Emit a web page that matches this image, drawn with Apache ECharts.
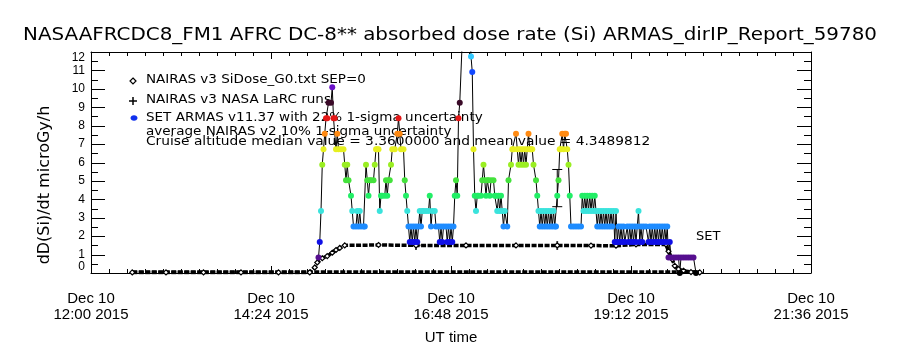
<!DOCTYPE html>
<html><head><meta charset="utf-8">
<script src="https://cdn.jsdelivr.net/npm/echarts@6/dist/echarts.min.js"></script>
<style>html,body{margin:0;padding:0;background:#fff}#c{width:900px;height:350px}</style>
</head><body><div id="c"></div>
<script>
// time values are minutes after Dec 10 2015 12:00 UT
const xTickLabels = ['Dec 10\n12:00 2015', 'Dec 10\n14:24 2015', 'Dec 10\n16:48 2015', 'Dec 10\n19:12 2015', 'Dec 10\n21:36 2015'];
const yTickLabels = ['0','1','2','3','4','5','6','7','8','9','10','11','12'];

// SET ARMAS v11.37 dose rate
const armasMin = [182,183,184,185,186,187,188,189,190,192,193,194,195,196,197,198,200,202,203,204,205,206,208,209,210,212,213,214,215,216,218,219,
  220,221,222,223,224,226,227,228,229,230,231,232,233,235,236,237,238,239,240,241,243,245,246,247,248,250,251,252,253,254,
  255,256,257,258,259,260,261,262,263,264,265,266,268,270,271,272,273,275,276,278,279,280,281,282,284,285,286,287,288,289,290,
  291,292,293,294,295,299,302,304,305,306,307,308,309,310,312,313,314,315,316,317,318,319,320,322,323,324,325,326,327,328,329,330,331,333,
  334,336,337,338,340,341,342,343,344,345,346,347,348,349,350,351,352,353,354,356,357,358,359,360,361,362,363,364,365,366,367,368,369,370,371,372,
  373,374,375,376,377,378,379,380,381,382,383,384,386,388,390,392,393,394,395,396,397,398,399,400,401,402,403,404,405,406,407,408,409,410,
  411,412,413,414,415,416,417,418,419,420,421,422,423,424,425,426,427,429,430,431,432,433,434,435,436,437,438,439,440,441,442,444,
  446,447,448,449,450,451,452,453,454,455,456,457,458,459,460,461,462,463,464,466,468,470,471,472,474,476,478,480,482,484];
const armasDose = [0.84,1.68,3.36,5.88,6.72,7.56,8.4,8.4,9.24,9.24,10.08,8.4,8.4,6.72,7.56,6.72,6.72,6.72,5.88,5.04,5.88,5.04,4.2,3.36,2.52,2.52,3.36,2.52,3.36,2.52,2.52,2.52,
  5.88,5.04,4.2,5.04,5.04,5.04,5.88,6.72,6.72,6.72,3.36,4.2,4.2,4.2,5.04,4.2,5.04,5.04,5.88,6.72,6.72,7.56,8.4,7.56,6.72,6.72,5.04,4.2,3.36,2.52,
  1.68,2.52,1.68,2.52,1.68,2.52,1.68,2.52,3.36,2.52,3.36,3.36,3.36,3.36,4.2,2.52,3.36,3.36,2.52,2.52,1.68,2.52,1.68,2.52,2.52,1.68,2.52,1.68,2.52,1.68,2.52,
  4.2,5.04,4.2,8.4,9.24,16,16,11.76,10.92,6.72,4.2,3.36,4.2,4.2,4.2,5.04,5.88,5.04,4.2,5.04,5.04,4.2,5.04,5.04,4.2,4.2,3.36,4.2,3.36,4.2,3.36,2.52,3.36,2.52,
  5.04,5.88,6.72,6.72,7.56,6.72,5.88,6.72,5.88,6.72,5.88,6.72,5.88,6.72,7.56,6.72,6.72,6.72,5.88,5.04,4.2,3.36,2.52,3.36,2.52,3.36,2.52,3.36,2.52,3.36,2.52,3.36,2.52,3.36,2.52,2.52,
  4.2,5.04,6.72,6.72,7.56,6.72,7.56,7.56,6.72,5.88,4.2,2.52,2.52,2.52,2.52,2.52,4.2,3.36,4.2,3.36,4.2,3.36,4.2,3.36,4.2,3.36,4.2,3.36,2.52,3.36,2.52,3.36,2.52,3.36,
  2.52,3.36,2.52,3.36,2.52,3.36,2.52,3.36,1.68,3.36,1.68,2.52,1.68,2.52,1.68,2.52,1.68,2.52,1.68,2.52,1.68,2.52,1.68,2.52,1.68,2.52,3.36,1.68,2.52,1.68,2.52,2.52,
  1.68,2.52,1.68,2.52,1.68,2.52,1.68,2.52,1.68,2.52,1.68,2.52,1.68,2.52,1.68,2.52,0.84,1.68,0.84,0.84,0.84,0.84,0,0.84,0.84,0.84,0.84,0.84,0.84,0];

// NAIRAS v3 SiDose_G0.txt SEP=0
const nairasMin  = [33,60,90,120,150,175,179,181,185,189,193,196,199,203,230,260,300,340,373,400,420,436,460,462,465,467,470,474,480,487];
const nairasDose = [0.03,0.03,0.03,0.03,0.03,0.03,0.3,0.57,0.8,0.92,1.1,1.25,1.36,1.5,1.52,1.5,1.5,1.5,1.5,1.49,1.48,1.55,1.55,1.18,0.74,0.39,0.21,0.12,0.05,0.03];
// low NAIRAS trace along the bottom
const lowMin  = [33,120,200,300,400,487];
const lowDose = [0.06,0.06,0.06,0.06,0.06,0.06];
// NAIRAS v3 NASA LaRC runs
const larcMin  = [260,373];
const larcDose = [1.5,1.5];
// uncertainty bar
const barMin = [373];
const barLow = [3.6];
const barHigh = [5.62];

const X_MIN = 0, X_MAX = 576, X_STEP = 144, X_MINOR = 10;
const Y_MIN = 0, Y_MAX = 12, Y_STEP = 1, Y_MINOR = 2;

const levelVals = [0,0.84,1.68,2.52,3.36,4.2,5.04,5.88,6.72,7.56,8.4,9.24,10.08,10.92,11.76,16];
const levelCols = ['#000000','#560f8f','#1010e6','#1e8cff','#3ae3dc','#22ee66','#44e23c','#9aee22','#e6f020','#ff8a12','#e41818','#3a0a28','#6a12c8','#1248ff','#30c8ff','#30c8ff'];
function colorFor(v){ let best=0, d=1e9; for(let i=0;i<levelVals.length;i++){const e=Math.abs(levelVals[i]-v); if(e<d){d=e;best=i;}} return levelCols[best]; }

const zip = (a,b)=>a.map((x,i)=>[x,b[i]]);
const FONT = 'DejaVu Sans';
const LFONT = 'Liberation Sans';
const chart = echarts.init(document.getElementById('c'));
const mkLine = ()=>({show:true, onZero:false, lineStyle:{color:'#000', width:1}});

// frame ticks (inside, on all four sides) drawn through the axes' own scale
function renderTicks(params, api){
  const kids = [];
  const st = {stroke:'#000', lineWidth:1};
  const crisp = (v)=>Math.round(v)+0.5;
  const nx = Math.round((X_MAX-X_MIN)/X_STEP)*X_MINOR;
  for(let i=0;i<=nx;i++){
    const t = X_MIN + i*X_STEP/X_MINOR;
    const len = (i % X_MINOR === 0) ? 7 : 4;
    const b = api.coord([t, Y_MIN]), tp = api.coord([t, Y_MAX]);
    const x = crisp(b[0]);
    kids.push({type:'line', shape:{x1:x, y1:b[1], x2:x, y2:b[1]-len}, style:st});
    kids.push({type:'line', shape:{x1:x, y1:tp[1], x2:x, y2:tp[1]+len}, style:st});
  }
  const ny = Math.round((Y_MAX-Y_MIN)/Y_STEP)*Y_MINOR;
  for(let i=0;i<=ny;i++){
    const v = Y_MIN + i*Y_STEP/Y_MINOR;
    const len = (i % Y_MINOR === 0) ? 14 : 7;
    const l = api.coord([X_MIN, v]), r = api.coord([X_MAX, v]);
    const y = crisp(l[1]);
    kids.push({type:'line', shape:{x1:l[0], y1:y, x2:l[0]+len, y2:y}, style:st});
    kids.push({type:'line', shape:{x1:r[0], y1:y, x2:r[0]-len, y2:y}, style:st});
  }
  return {type:'group', children:kids};
}

chart.setOption({
  animation:false,
  backgroundColor:'#fff',
  grid:{left:91, right:89, top:52, bottom:71},
  xAxis:[
    {type:'value', min:X_MIN, max:X_MAX, interval:X_STEP, position:'bottom', axisLine:mkLine(), axisTick:{show:false}, minorTick:{show:false}, splitLine:{show:false},
      axisLabel:{color:'#000', fontFamily:LFONT, fontSize:15, lineHeight:16, margin:18, showMinLabel:true, showMaxLabel:true,
        formatter:(v)=>xTickLabels[Math.round(v/X_STEP)]},
      name:'UT time', nameLocation:'middle', nameGap:57, nameTextStyle:{color:'#000', fontFamily:LFONT, fontSize:15}},
    {type:'value', min:X_MIN, max:X_MAX, interval:X_STEP, position:'top', axisLine:mkLine(), axisTick:{show:false}, minorTick:{show:false}, splitLine:{show:false},
      axisLabel:{show:false}}
  ],
  yAxis:[
    {type:'value', min:Y_MIN, max:Y_MAX, interval:Y_STEP, position:'left', axisLine:mkLine(), axisTick:{show:false}, minorTick:{show:false}, splitLine:{show:false},
      axisLabel:{color:'#000', fontFamily:LFONT, fontSize:12, margin:6, showMinLabel:true, showMaxLabel:true,
        verticalAlignMinLabel:'bottom', verticalAlignMaxLabel:'top',
        formatter:(v)=>yTickLabels[Math.round(v)]}},
    {type:'value', min:Y_MIN, max:Y_MAX, interval:Y_STEP, position:'right', axisLine:mkLine(), axisTick:{show:false}, minorTick:{show:false}, splitLine:{show:false},
      axisLabel:{show:false}}
  ],
  series:[
    {type:'custom', name:'ticks', data:[[X_MIN, Y_MIN]], renderItem:renderTicks, silent:true, z:1},
    {type:'line', name:'low', data:zip(lowMin,lowDose), symbol:'none',
      lineStyle:{color:'#000', width:3.5, type:[5,1.5]}},
    {type:'line', name:'NAIRAS v3 SiDose_G0.txt SEP=0', data:zip(nairasMin,nairasDose), symbol:'diamond', symbolSize:5,
      itemStyle:{color:'#fff', borderColor:'#000', borderWidth:1.2},
      lineStyle:{color:'#000', width:3.5, type:[5,1.5]}},
    {type:'line', name:'SET ARMAS', data:zip(armasMin,armasDose), symbol:'circle', symbolSize:6, showSymbol:true, clip:true,
      lineStyle:{color:'#000', width:1},
      itemStyle:{color:(p)=>colorFor(p.value[1])}},
    {type:'scatter', name:'NAIRAS v3 NASA LaRC runs', data:zip(larcMin,larcDose),
      symbol:'path://M4,0h2v4h4v2h-4v4h-2v-4h-4v-2h4z', symbolSize:9, itemStyle:{color:'#000'}},
    {type:'custom', name:'unc', data:barMin.map((m,i)=>[m,barLow[i],barHigh[i]]),
      renderItem:(params, api)=>{
        const lo = api.coord([api.value(0), api.value(1)]);
        const hi = api.coord([api.value(0), api.value(2)]);
        const st = {stroke:'#000', lineWidth:1};
        return {type:'group', children:[
          {type:'line', shape:{x1:lo[0],y1:lo[1],x2:hi[0],y2:hi[1]}, style:st},
          {type:'line', shape:{x1:lo[0]-5,y1:lo[1],x2:lo[0]+5,y2:lo[1]}, style:st},
          {type:'line', shape:{x1:hi[0]-5,y1:hi[1],x2:hi[0]+5,y2:hi[1]}, style:st}
        ]};
      }}
  ],
  graphic:[
    {type:'text', x:450, y:36, scaleX:1.17, style:{text:'NASAAFRCDC8_FM1 AFRC DC-8** absorbed dose rate (Si) ARMAS_dirIP_Report_59780', font:'17px '+FONT, fill:'#000', align:'center', verticalAlign:'middle'}},
    {type:'text', x:45, y:185, rotation:Math.PI/2, style:{text:'dD(Si)/dt microGy/h', font:'16px '+FONT, fill:'#000', align:'center', verticalAlign:'middle'}},
    {type:'polygon', shape:{points:[[133,78],[136,81],[133,84],[130,81]]}, style:{fill:'#fff', stroke:'#000', lineWidth:1.2}},
    {type:'text', x:146, y:80, scaleX:1.04, style:{text:'NAIRAS v3 SiDose_G0.txt SEP=0', font:'13px '+FONT, fill:'#000', verticalAlign:'middle'}},
    {type:'polyline', shape:{points:[[129,101],[137,101]]}, style:{stroke:'#000', lineWidth:1.5}},
    {type:'polyline', shape:{points:[[133,97],[133,105]]}, style:{stroke:'#000', lineWidth:1.5}},
    {type:'text', x:146, y:100, scaleX:1.04, style:{text:'NAIRAS v3 NASA LaRC runs', font:'13px '+FONT, fill:'#000', verticalAlign:'middle'}},
    {type:'ellipse', shape:{cx:134, cy:118, rx:3.5, ry:2.8}, style:{fill:'#1030ee'}},
    {type:'text', x:146, y:118, scaleX:1.04, style:{text:'SET ARMAS v11.37 with 22% 1-sigma uncertainty', font:'13px '+FONT, fill:'#000', verticalAlign:'middle'}},
    {type:'text', x:146, y:132, scaleX:1.04, style:{text:'average NAIRAS v2 10% 1-sigma uncertainty', font:'13px '+FONT, fill:'#000', verticalAlign:'middle'}},
    {type:'text', x:146, y:142, scaleX:1.06, style:{text:'Cruise altitude median value = 3.3600000 and mean value = 4.3489812', font:'13px '+FONT, fill:'#000', verticalAlign:'middle'}},
    {type:'text', x:696, y:237, style:{text:'SET', font:'13px '+FONT, fill:'#000', verticalAlign:'middle'}}
  ]
});
</script></body></html>
